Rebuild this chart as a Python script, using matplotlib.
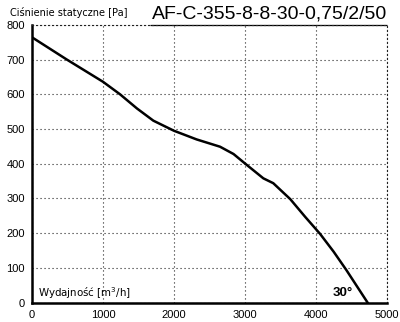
import matplotlib.pyplot as plt

# curve
flow = [0, 490, 1000, 1240, 1480, 1710, 2000, 2320, 2650, 2840, 3000, 3260, 3400, 3640, 3850, 4060, 4250, 4430, 4730]
pressure = [764, 700, 636, 600, 559, 524, 495, 470, 449, 428, 401, 358, 344, 298, 247, 198, 147, 94, 0]

x_ticks = [0, 1000, 2000, 3000, 4000, 5000]
y_ticks = [0, 100, 200, 300, 400, 500, 600, 700, 800]

title = 'AF-C-355-8-8-30-0,75/2/50'
y_title = 'Ciśnienie statyczne [Pa]'
x_title = 'Wydajność [m$^{3}$/h]'
angle = '30°'

fig = plt.figure(figsize=(4.0, 3.22), dpi=100)
ax = fig.add_axes([0.08, 0.06, 0.887, 0.863])

ax.plot(flow, pressure, color='black', linewidth=1.8, solid_joinstyle='round')

ax.set_xlim(0, 5000)
ax.set_ylim(0, 800)
ax.set_xticks(x_ticks)
ax.set_yticks(y_ticks)
ax.tick_params(length=0, labelsize=8, pad=5)
for lab in ax.get_xticklabels() + ax.get_yticklabels():
    lab.set_fontfamily('Liberation Sans')

dots = (0, (1, 2.6))
ax.grid(True, color='#222222', linestyle=dots, linewidth=0.8)
ax.spines['left'].set_linewidth(1.8)
ax.spines['bottom'].set_linewidth(1.8)
for s in ['top', 'right']:
    ax.spines[s].set_linestyle(dots)
    ax.spines[s].set_linewidth(0.8)
    ax.spines[s].set_color('#222222')
ax.hlines(800, 1660, 5000, color='black', linewidth=0.9, clip_on=False)

fig.text(0.025, 0.96, y_title, fontsize=7.0, family='DejaVu Sans', va='center', ha='left')
fig.text(0.968, 0.958, title, fontsize=14, family='Liberation Sans', va='center', ha='right')
ax.text(85, 27, x_title, fontsize=7.4, family='DejaVu Sans', va='center', ha='left')
ax.text(4230, 27, angle, fontsize=9.5, family='Liberation Sans', fontweight='bold', va='center', ha='left')

fig.savefig('out.png', dpi=100)
